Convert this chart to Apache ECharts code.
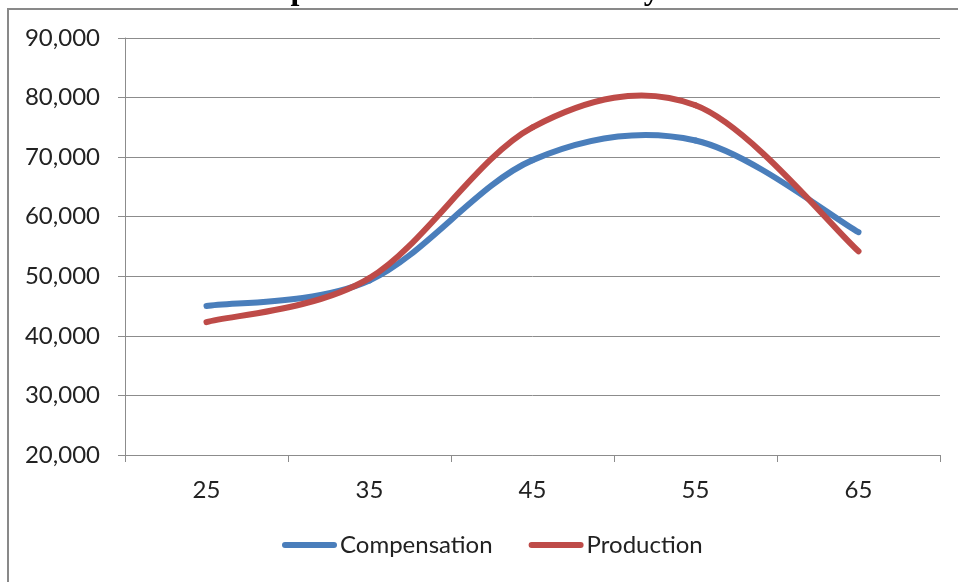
<!DOCTYPE html>
<html>
<head>
<meta charset="utf-8">
<script src="https://cdn.jsdelivr.net/npm/echarts@6/dist/echarts.min.js"></script>
<style>
  html, body { margin: 0; padding: 0; background: #fff; }
  #chart { width: 958px; height: 582px; }
</style>
</head>
<body>
<div id="chart"></div>
<script>
// Age groups on the horizontal axis
const ages = ['25', '35', '45', '55', '65'];
// Annual compensation and production per worker, by age
const compensation = [45000, 49300, 69500, 72800, 57400];
const production = [42300, 49700, 75000, 78700, 54200];
// Value axis range
const yMin = 20000;
const yMax = 90000;
const yStep = 10000;

const titleText = 'Chart 11: Compensation and Productivity of Male Workers';
const blue = '#4A7EBB';
const red = '#BE4B48';
const gridGray = '#8C8C8C';
const labelFont = 'Lato, "Open Sans", sans-serif';

// Smooth curve through the points: each segment is a cubic Bezier whose
// control points follow the Catmull-Rom tangents of the neighbouring points.
function smoothSegments(values, color) {
  return function (params, api) {
    const n = values.length;
    const i = params.dataIndex;
    if (i >= n - 1) return null;
    const pt = k => {
      const j = Math.max(0, Math.min(n - 1, k));
      return api.coord([j, values[j]]);
    };
    const p0 = pt(i - 1), p1 = pt(i), p2 = pt(i + 1), p3 = pt(i + 2);
    const f = 1 / 6;
    return {
      type: 'bezierCurve',
      shape: {
        x1: p1[0], y1: p1[1],
        x2: p2[0], y2: p2[1],
        cpx1: p1[0] + (p2[0] - p0[0]) * f,
        cpy1: p1[1] + (p2[1] - p0[1]) * f,
        cpx2: p2[0] - (p3[0] - p1[0]) * f,
        cpy2: p2[1] - (p3[1] - p1[1]) * f
      },
      style: { stroke: color, fill: null, lineWidth: 6, lineCap: 'round' }
    };
  };
}

const capsule = 'path://M3,0 L52,0 A3,3 0 0 1 52,6 L3,6 A3,3 0 0 1 3,0 Z';

const chart = echarts.init(document.getElementById('chart'), null, { renderer: 'canvas' });
chart.setOption({
  backgroundColor: '#ffffff',
  animation: false,
  graphic: [
    {
      type: 'rect',
      shape: { x: 8, y: 9, width: 1100, height: 700 },
      style: { fill: null, stroke: '#898989', lineWidth: 2 },
      z: 0
    },
    {
      // Title sits at the very top edge of the frame
      type: 'text',
      x: 86, y: 7,
      style: {
        text: titleText,
        font: 'bold 32px "Liberation Serif", "DejaVu Serif", serif',
        lineHeight: 32,
        fill: '#000',
        verticalAlign: 'bottom',
        align: 'left'
      },
      z: 1
    }
  ],
  grid: { left: 125, right: 18, top: 38, bottom: 127 },
  legend: {
    left: 277,
    top: 528,
    itemWidth: 55,
    itemHeight: 6,
    itemGap: 36,
    textStyle: { fontFamily: labelFont, fontSize: 24, color: '#222', padding: [0, 0, 0, -2] },
    data: [
      { name: 'Compensation', icon: capsule },
      { name: 'Production', icon: capsule }
    ]
  },
  xAxis: {
    type: 'category',
    data: ages,
    boundaryGap: true,
    axisLine: { lineStyle: { color: gridGray, width: 1 } },
    axisTick: { show: true, length: 7, lineStyle: { color: gridGray } },
    axisLabel: { fontFamily: labelFont, fontSize: 24, color: '#222', margin: 23 },
    splitLine: { show: false }
  },
  yAxis: {
    type: 'value',
    min: yMin,
    max: yMax,
    interval: yStep,
    axisLine: { show: true, lineStyle: { color: gridGray, width: 1 } },
    axisTick: { show: true, length: 7, lineStyle: { color: gridGray } },
    axisLabel: {
      fontFamily: labelFont, fontSize: 24, color: '#222', margin: 25,
      formatter: v => v.toLocaleString('en-US')
    },
    splitLine: { show: true, lineStyle: { color: gridGray, width: 1 } }
  },
  series: [
    {
      name: 'Compensation',
      type: 'custom',
      itemStyle: { color: blue },
      encode: { x: 0, y: 1 },
      data: compensation.map((v, i) => [i, v]),
      renderItem: smoothSegments(compensation, blue),
      clip: false,
      z: 3
    },
    {
      name: 'Production',
      type: 'custom',
      itemStyle: { color: red },
      encode: { x: 0, y: 1 },
      data: production.map((v, i) => [i, v]),
      renderItem: smoothSegments(production, red),
      clip: false,
      z: 4
    }
  ]
});
</script>
</body>
</html>
